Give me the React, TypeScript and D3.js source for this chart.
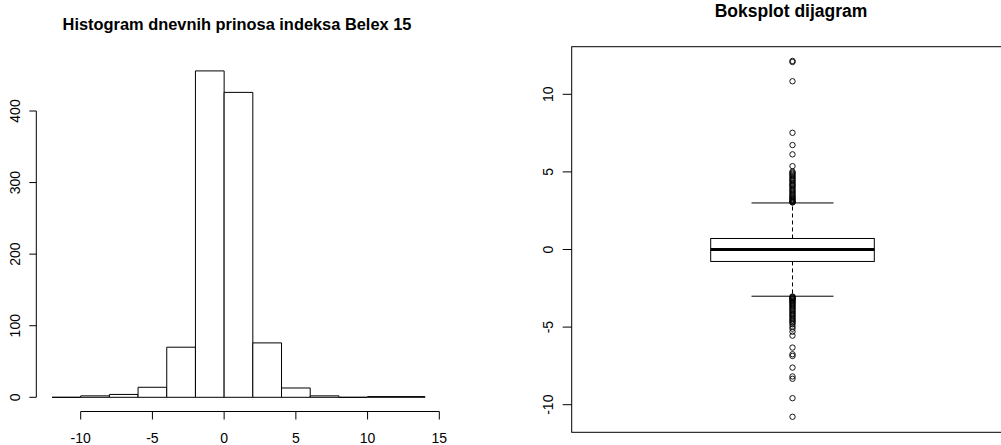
import React from "react";
import * as d3 from "d3";

// Histogram of daily Belex 15 returns: bin edges and counts
const binEdges = [-12, -10, -8, -6, -4, -2, 0, 2, 4, 6, 8, 10, 12, 14];
const binCounts = [0, 2, 4, 14, 70, 456, 426, 76, 13, 2, 0, 1, 1];
const histXTicks = [-10, -5, 0, 5, 10, 15];
const histYTicks = [0, 100, 200, 300, 400];

// Boxplot summary
const boxStats = { whiskerLow: -3.01, q1: -0.77, median: 0.0, q3: 0.71, whiskerHigh: 3.0 };
const upperOutliers = [
  12.15, 12.08, 10.84, 7.52, 6.73, 6.13, 5.37, 5.02, 4.95, 4.88, 4.8, 4.72, 4.63, 4.55,
  4.47, 4.4, 4.3, 4.22, 4.15, 4.08, 4.0, 3.9, 3.82, 3.75, 3.66, 3.58, 3.5, 3.43, 3.36,
  3.3, 3.24, 3.18, 3.12, 3.08, 3.05, 3.03,
];
const lowerOutliers = [
  -3.03, -3.06, -3.1, -3.14, -3.18, -3.23, -3.28, -3.33, -3.4, -3.46, -3.52, -3.6, -3.67,
  -3.74, -3.82, -3.9, -3.98, -4.06, -4.15, -4.22, -4.3, -4.4, -4.48, -4.57, -4.65, -4.72,
  -4.82, -4.97, -5.1, -5.3, -5.55, -6.32, -6.75, -6.86, -7.61, -8.18, -8.33, -9.58, -10.78,
];
const boxYTicks = [-10, -5, 0, 5, 10];

const FONT = "'Liberation Sans', Arial, sans-serif";
const INK = "#000";

function Histogram() {
  const x = d3.scaleLinear().domain([-10, 15]).range([80.7, 439.3]);
  const y = d3.scaleLinear().domain([0, 400]).range([397.3, 111]);
  const axisY = 411.5;
  const axisX = 36.3;
  return (
    <g>
      <text x={237} y={30} textAnchor="middle" fontFamily={FONT} fontWeight="bold" fontSize={16.4} fill={INK}>
        Histogram dnevnih prinosa indeksa Belex 15
      </text>
      {binCounts.map((c, i) => {
        const x0 = x(binEdges[i]);
        const x1 = x(binEdges[i + 1]);
        const yb = y(0);
        const yt = y(c);
        // drawn as a closed path so that empty bins still show as a flat line
        return (
          <path
            key={i}
            d={`M${x0},${yb}V${yt}H${x1}V${yb}Z`}
            fill="#fff"
            stroke={INK}
            strokeWidth={1}
          />
        );
      })}
      {/* x axis */}
      <line x1={x(histXTicks[0])} x2={x(histXTicks[histXTicks.length - 1])} y1={axisY} y2={axisY} stroke={INK} />
      {histXTicks.map((t) => (
        <g key={t}>
          <line x1={x(t)} x2={x(t)} y1={axisY} y2={axisY + 8} stroke={INK} />
          <text x={x(t)} y={443} textAnchor="middle" fontFamily={FONT} fontSize={14} fill={INK}>
            {t}
          </text>
        </g>
      ))}
      {/* y axis */}
      <line x1={axisX} x2={axisX} y1={y(0)} y2={y(400)} stroke={INK} />
      {histYTicks.map((t) => (
        <g key={t}>
          <line x1={axisX - 7} x2={axisX} y1={y(t)} y2={y(t)} stroke={INK} />
          <text
            transform={`translate(19.5,${y(t)}) rotate(-90)`}
            textAnchor="middle"
            fontFamily={FONT}
            fontSize={14}
            fill={INK}
          >
            {t}
          </text>
        </g>
      ))}
    </g>
  );
}

function BoxPlot() {
  const y = d3.scaleLinear().domain([-10, 10]).range([404.7, 94.3]);
  const left = 571.7;
  const top = 46.7;
  const bottom = 432.3;
  const cx = 792.5;
  const halfBox = 81.8;
  const halfCap = 41;
  const outliers = [...upperOutliers, ...lowerOutliers];
  return (
    <g>
      <text x={791} y={17} textAnchor="middle" fontFamily={FONT} fontWeight="bold" fontSize={17.5} fill={INK}>
        Boksplot dijagram
      </text>
      {/* frame */}
      <rect x={left} y={top} width={1010 - left} height={bottom - top} fill="none" stroke={INK} />
      {/* whiskers */}
      <line x1={cx} x2={cx} y1={y(boxStats.q3)} y2={y(boxStats.whiskerHigh)} stroke={INK} strokeDasharray="4,3" />
      <line x1={cx} x2={cx} y1={y(boxStats.q1)} y2={y(boxStats.whiskerLow)} stroke={INK} strokeDasharray="4,3" />
      <line x1={cx - halfCap} x2={cx + halfCap} y1={y(boxStats.whiskerHigh)} y2={y(boxStats.whiskerHigh)} stroke={INK} />
      <line x1={cx - halfCap} x2={cx + halfCap} y1={y(boxStats.whiskerLow)} y2={y(boxStats.whiskerLow)} stroke={INK} />
      {/* box */}
      <rect
        x={cx - halfBox}
        y={y(boxStats.q3)}
        width={halfBox * 2}
        height={y(boxStats.q1) - y(boxStats.q3)}
        fill="#fff"
        stroke={INK}
      />
      <line x1={cx - halfBox} x2={cx + halfBox} y1={y(boxStats.median)} y2={y(boxStats.median)} stroke={INK} strokeWidth={3} />
      {/* outliers */}
      {outliers.map((v, i) => (
        <circle key={i} cx={cx} cy={y(v)} r={2.7} fill="none" stroke={INK} strokeWidth={0.9} />
      ))}
      {/* y axis */}
      {boxYTicks.map((t) => (
        <g key={t}>
          <line x1={left - 9} x2={left} y1={y(t)} y2={y(t)} stroke={INK} />
          <text
            transform={`translate(552.7,${y(t)}) rotate(-90)`}
            textAnchor="middle"
            fontFamily={FONT}
            fontSize={14}
            fill={INK}
          >
            {t}
          </text>
        </g>
      ))}
    </g>
  );
}

export default function App() {
  return (
    <svg
      width={1001}
      height={445}
      style={{ position: "absolute", left: 0, top: 0, background: "#fff" }}
    >
      <rect width={1001} height={445} fill="#fff" />
      <Histogram />
      <BoxPlot />
    </svg>
  );
}
